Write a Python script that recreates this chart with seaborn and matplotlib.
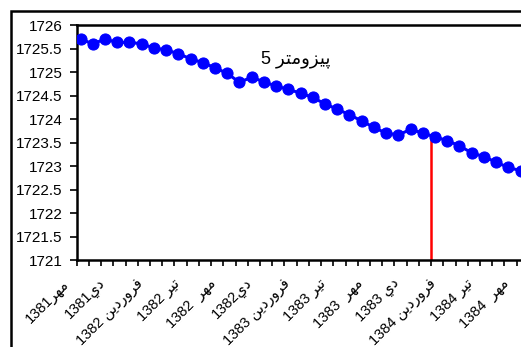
import matplotlib
matplotlib.use("Agg")
import matplotlib.pyplot as plt
import matplotlib.transforms as mtransforms
from matplotlib.patches import Rectangle
import numpy as np
import pandas as pd
import seaborn as sns

# ---------------- data ----------------
levels = [1725.70, 1725.60, 1725.70, 1725.63, 1725.63, 1725.60, 1725.51, 1725.47,
          1725.39, 1725.28, 1725.20, 1725.09, 1724.97, 1724.78, 1724.89, 1724.79,
          1724.70, 1724.63, 1724.55, 1724.46, 1724.32, 1724.21, 1724.09, 1723.96,
          1723.82, 1723.70, 1723.66, 1723.78, 1723.70, 1723.62, 1723.54, 1723.43,
          1723.28, 1723.20, 1723.08, 1722.97, 1722.90]
label_months = ["مهر", "دي", "فروردين", "تير", "مهر", "دي", "فروردين",
                "تير", "مهر", "دي", "فروردين", "تير", "مهر"]
label_years = ["1381", "1381", "1382", "1382", "1382", "1382", "1383",
               "1383", "1383", "1383", "1384", "1384", "1384"]
label_gaps = ["", "", " ", " ", "  ", "", " ", " ", "  ", " ", " ", " ", "  "]
label_step = 3
yticks = [1721, 1721.5, 1722, 1722.5, 1723, 1723.5, 1724, 1724.5, 1725, 1725.5, 1726]
ytick_labels = ["1721", "1721.5", "1722", "1722.5", "1723", "1723.5", "1724",
                "1724.5", "1725", "1725.5", "1726"]
title_word = "پيزومتر"
title_num = "5"
marker_month = 28.68        # position of the red vertical marker (month index)
marker_point = 29           # point the marker reaches up to

# ---------------- minimal Arabic-script shaping ----------------
FORMS = {
    "\u067E": ("\uFB56", "\uFB57", "\uFB58", "\uFB59"),
    "\u064A": ("\uFEF1", "\uFEF2", "\uFEF3", "\uFEF4"),
    "\u0632": ("\uFEAF", "\uFEB0", None, None),
    "\u0648": ("\uFEED", "\uFEEE", None, None),
    "\u0645": ("\uFEE1", "\uFEE2", "\uFEE3", "\uFEE4"),
    "\u062A": ("\uFE95", "\uFE96", "\uFE97", "\uFE98"),
    "\u0631": ("\uFEAD", "\uFEAE", None, None),
    "\u0647": ("\uFEE9", "\uFEEA", "\uFEEB", "\uFEEC"),
    "\u062F": ("\uFEA9", "\uFEAA", None, None),
    "\u0641": ("\uFED1", "\uFED2", "\uFED3", "\uFED4"),
    "\u0646": ("\uFEE5", "\uFEE6", "\uFEE7", "\uFEE8"),
}


def dual(c):
    return c in FORMS and FORMS[c][2] is not None


def shape_visual(word):
    out = []
    n = len(word)
    for i, c in enumerate(word):
        if c not in FORMS:
            out.append(c)
            continue
        prev_join = i > 0 and dual(word[i - 1])
        next_join = dual(c) and i < n - 1 and word[i + 1] in FORMS
        iso, fin, ini, med = FORMS[c]
        if prev_join and next_join:
            out.append(med)
        elif prev_join:
            out.append(fin)
        elif next_join:
            out.append(ini)
        else:
            out.append(iso)
    return "".join(out[::-1])


xlabels = [y + g + shape_visual(m) for m, y, g in zip(label_months, label_years, label_gaps)]
title_text = title_num + " " + shape_visual(title_word)

df = pd.DataFrame({"month": np.arange(len(levels)), "level": levels})

# ---------------- figure ----------------
sns.set_theme(style="white")
plt.rcParams["font.family"] = ["Liberation Sans", "DejaVu Sans"]

W, H = 521, 347
fig = plt.figure(figsize=(W / 100, H / 100), dpi=100)
fig.patch.set_facecolor("white")

x_left = -0.32
n_cat = 38
px_per_cat = 12.22
ax = fig.add_axes([76.7 / W, (H - 260) / H, n_cat * px_per_cat / W, 235 / H])
ax.set_facecolor("white")

sns.lineplot(data=df, x="month", y="level", ax=ax, color="#0000FF", linewidth=2.2,
             marker="o", markersize=8, markeredgecolor="#0000FF",
             markerfacecolor="#0000FF", zorder=3)

ax.vlines(marker_month, yticks[0], levels[marker_point], color="#FF0000",
          linewidth=1.8, zorder=2)

ax.set_xlim(x_left, x_left + n_cat)
ax.set_ylim(yticks[0], yticks[-1])
ax.set_xlabel("")
ax.set_ylabel("")

# y axis
ax.set_yticks(yticks)
ax.set_yticklabels(ytick_labels)
ax.tick_params(axis="y", direction="out", length=5, width=1.2, color="black",
               labelsize=11, pad=5, left=True, labelcolor="black")

# x axis: tick marks between months (minor), labels every 3 months (major)
ax.set_xticks(np.arange(0, len(levels), label_step))
ax.set_xticklabels(xlabels, rotation=45, ha="right", va="top")
ax.set_xticks(np.arange(n_cat + 1) + x_left, minor=True)
ax.tick_params(axis="x", which="major", length=0, labelsize=10.5, pad=12,
               labelcolor="black")
ax.tick_params(axis="x", which="minor", direction="out", length=4, width=1.2,
               color="black", bottom=True)
offset = mtransforms.ScaledTranslation(-6 / 72, 0, fig.dpi_scale_trans)
for lab in ax.get_xticklabels():
    lab.set_transform(lab.get_transform() + offset)

for side in ["left", "bottom", "top"]:
    ax.spines[side].set_visible(True)
    ax.spines[side].set_color("black")
    ax.spines[side].set_linewidth(1.8)
ax.spines["right"].set_visible(False)
ax.grid(False)

ax.text(17.6, 1725.28, title_text, fontsize=13, ha="center", va="center",
        color="black")

# outer chart frame
frame = Rectangle((11 / W, -0.2), 1.2, 1.2 - 11 / H, transform=fig.transFigure,
                  fill=False, edgecolor="black", linewidth=1.8, clip_on=False)
fig.add_artist(frame)

fig.savefig("out.png", dpi=100)
